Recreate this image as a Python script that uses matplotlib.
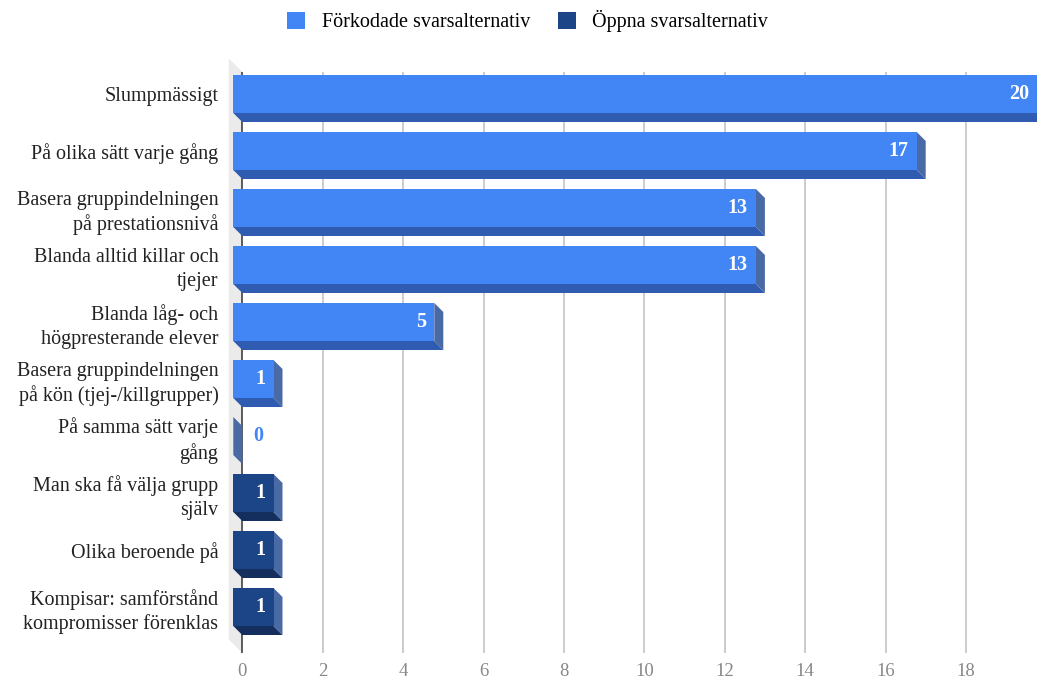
import matplotlib.pyplot as plt
from matplotlib.patches import Polygon, Patch

plt.rcParams['font.family'] = ['Liberation Serif', 'DejaVu Serif']

categories = [
    "Slumpmässigt",
    "På olika sätt varje gång",
    "Basera gruppindelningen\npå prestationsnivå",
    "Blanda alltid killar och\ntjejer",
    "Blanda låg- och\nhögpresterande elever",
    "Basera gruppindelningen\npå kön (tjej-/killgrupper)",
    "På samma sätt varje\ngång",
    "Man ska få välja grupp\nsjälv",
    "Olika beroende på",
    "Kompisar: samförstånd\nkompromisser förenklas",
]
values = [20, 17, 13, 13, 5, 1, 0, 1, 1, 1]
series = [0, 0, 0, 0, 0, 0, 0, 1, 1, 1]
series_names = ["Förkodade svarsalternativ", "Öppna svarsalternativ"]
x_ticks = [0, 2, 4, 6, 8, 10, 12, 14, 16, 18]

# front / bottom / side shades per series
front = ["#4285f4", "#1c4587"]
bottom = ["#2f5bb0", "#142f5e"]
side = ["#4a6aa6", "#4a6aa6"]

W, H = 1037, 682
fig = plt.figure(figsize=(W / 100, H / 100), dpi=100)

# axes box in pixels: left, right, top, bottom
L, R, T, B = 224, 1037, 56, 660
ax = fig.add_axes([L / W, 1 - B / H, (R - L) / W, (B - T) / H])

px_per_unit = 40.2
px_per_row = 57
x0_px = 242.3
row0_px = 94
ax.set_xlim((L - x0_px) / px_per_unit, (R - x0_px) / px_per_unit)
ax.set_ylim((B - row0_px) / px_per_row, (T - row0_px) / px_per_row)

DX = 9 / px_per_unit      # depth offset in value units
DY = 9 / px_per_row       # depth offset in row units
BH = 38 / px_per_row      # bar face height
top_y = (72 - row0_px) / px_per_row
bot_y = (653 - row0_px) / px_per_row

# left wall of the 3d box
wd = 1.5
ax.add_patch(Polygon([(-wd * DX, top_y - wd * DY), (0, top_y), (0, bot_y),
                      (-wd * DX, bot_y - wd * DY)],
                     closed=True, facecolor="#ebebeb", edgecolor="none", zorder=0))

ax.vlines(x_ticks[1:], top_y, bot_y, color="#cccccc", lw=1.4, zorder=1)
ax.vlines(0, top_y, bot_y, color="#333333", lw=1.1, zorder=1)

rows = list(range(len(values)))
ax.barh(rows, values, left=-DX, height=BH,
        color=[front[s] for s in series], zorder=3)

for i, (v, s) in enumerate(zip(values, series)):
    y1, y2 = i - BH / 2, i + BH / 2
    # bottom face
    ax.add_patch(Polygon([(-DX, y2), (v - DX, y2), (v, y2 + DY), (0, y2 + DY)],
                         closed=True, facecolor=bottom[s], edgecolor="none", zorder=2))
    # right side face
    ax.add_patch(Polygon([(v - DX, y1), (v, y1 + DY), (v, y2 + DY), (v - DX, y2)],
                         closed=True, facecolor=side[s], edgecolor="none", zorder=2))
    if v > 0:
        ax.annotate(str(v), xy=(v - DX, i), xytext=(-6, 0), textcoords="offset points",
                    ha="right", va="center", color="white", fontsize=14.5,
                    fontweight="bold", zorder=4)
    else:
        ax.annotate(str(v), xy=(0, i), xytext=(8, 0), textcoords="offset points",
                    ha="left", va="center", color=front[s], fontsize=14.5,
                    fontweight="bold", zorder=4)

ax.set_yticks(rows)
ax.set_yticklabels(categories, fontsize=14.5, color="#222222")
for t in ax.get_yticklabels():
    t.set_linespacing(1.3)
ax.set_xticks(x_ticks)
ax.set_xticklabels([str(t) for t in x_ticks], fontsize=13.5, color="#888888")
ax.tick_params(axis="y", length=0, pad=4)
ax.tick_params(axis="x", length=0, pad=2)
for sp in ax.spines.values():
    sp.set_visible(False)

handles = [Patch(facecolor=front[k], edgecolor="none") for k in range(2)]
fig.legend(handles, series_names, loc="center", bbox_to_anchor=(0.509, 0.969),
           ncol=2, frameon=False, fontsize=14.5, handlelength=0.9, handleheight=0.9,
           handletextpad=0.8, columnspacing=1.4)

fig.savefig("out.png", dpi=100)
